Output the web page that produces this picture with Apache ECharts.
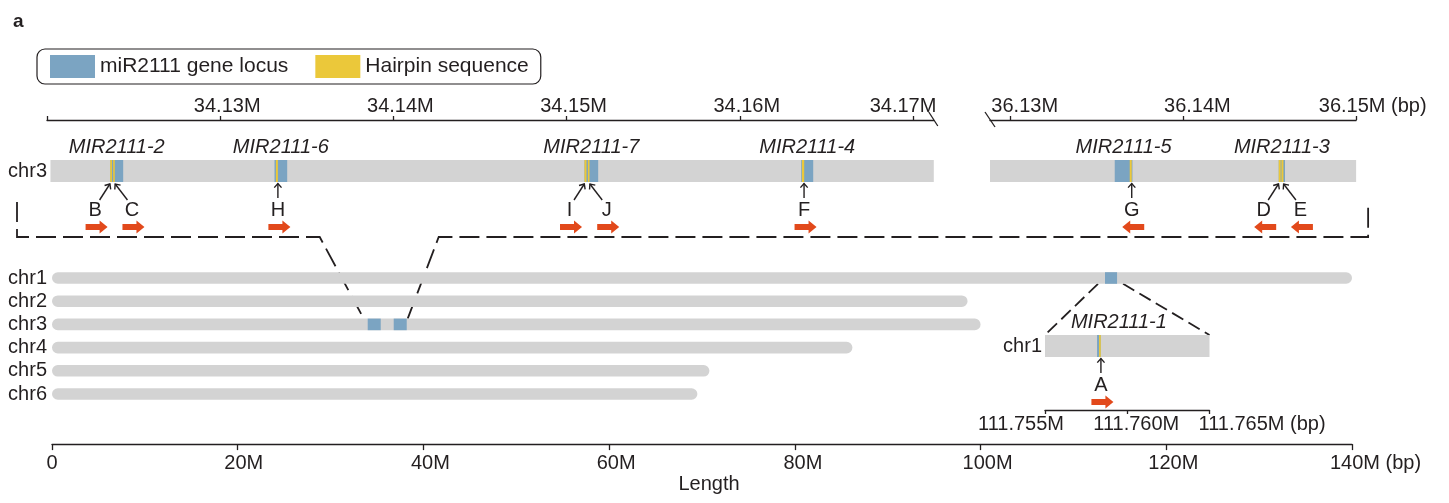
<!DOCTYPE html>
<html><head><meta charset="utf-8">
<script src="https://cdn.jsdelivr.net/npm/echarts@6/dist/echarts.min.js"></script>
<style>html,body{margin:0;padding:0;background:#fff}#c{width:1449px;height:503px}</style>
</head><body><div id="c"></div>
<script>
// ================= DATA (Mbp) =================
// zoomed chr3 windows and chr1 inset window
const chr3AxisLeft   = [34.12, 34.1712];
const chr3WindowLeft = [34.1202, 34.1712];
const chr3WindowRight = [36.1288, 36.1500];
const chr1Window = [111.755, 111.765];

// miR2111 gene loci
const lociNames  = ['MIR2111-2','MIR2111-6','MIR2111-7','MIR2111-4','MIR2111-5','MIR2111-3','MIR2111-1'];
const lociWindow = ['L','L','L','L','R','R','C1'];
const lociStart  = [34.12365, 34.133135, 34.151034, 34.163545, 36.136022, 36.145518, 111.758165];
const lociEnd    = [34.124399, 34.133868, 34.151824, 34.164238, 36.137047, 36.145883, 111.758390];

// hairpin sequences
const hairpinIds    = ['B','C','H','I','J','F','G','D','E','A'];
const hairpinWindow = ['L','L','L','L','L','L','R','R','R','C1'];
const hairpinStart  = [34.12365, 34.12382, 34.133216, 34.151034, 34.15123, 34.163586, 36.136891, 36.145518, 36.145674, 111.758287];
const hairpinEnd    = [34.12375, 34.12391, 34.133331, 34.15115, 34.151322, 34.163718, 36.137006, 36.14563, 36.14579, 111.75839];
const hairpinStrand = ['+','+','+','+','+','+','-','-','-','+'];
const hairpinLabelSide = [-1, 1, 0, -1, 1, 0, 0, -1, 1, 0];

// whole genome
const chromosomes = ['chr1','chr2','chr3','chr4','chr5','chr6'];
const chromLengths = [140.4, 98.6, 100.0, 86.2, 70.8, 69.5];
const highlightChrom = ['chr1','chr3','chr3'];
const highlightStart = [113.4, 34.0, 36.8];
const highlightEnd   = [114.7, 35.4, 38.2];

// ticks / tick labels
const tlTickValues  = [34.12, 34.13, 34.14, 34.15, 34.16, 34.17];
const tlLabelValues = [34.13, 34.14, 34.15, 34.16, 34.17];
const tlLabels      = ['34.13M','34.14M','34.15M','34.16M','34.17M'];
const trTickValues  = [36.13, 36.14, 36.15];
const trLabels      = ['36.13M','36.14M','36.15M'];
const genomeTickValues = [0, 20, 40, 60, 80, 100, 120, 140];
const genomeLabels  = ['0','20M','40M','60M','80M','100M','120M','140M'];
const insetTickValues = [111.755, 111.760, 111.765];
const insetLabels   = ['111.755M','111.760M','111.765M'];
const unitSuffix = ' (bp)';

// ================= STYLE / LAYOUT =================
const FONT = "'Liberation Sans', Arial, Helvetica, sans-serif";
const INK = '#231f20', GRAY = '#d3d3d3', BLUE = '#7ba4c2', YELLOW = '#ebc83a', RED = '#e2491b';
const TL_NUDGE = [7, 7, 7, 7, -10];
const TR_NUDGE = [14, 14, -4];
const G_NUDGE  = [0, 6, 7, 7, 8, 7, 7, 3];
const IN_NUDGE = [-24, 9, 32];
const LABEL_NUDGE = {'MIR2111-1': 20};

const ctx = document.createElement('canvas').getContext('2d');
function tw(s, size) { ctx.font = size + 'px ' + FONT; return ctx.measureText(s).width; }

function axisLabel(values, texts, nudges, suffixIdx, size, margin) {
  const rich = {};
  const sw = tw(unitSuffix, size);
  texts.forEach((t, i) => {
    const pad = (i === suffixIdx) ? sw + 2 * nudges[i] : 2 * nudges[i];
    rich['n' + i] = {fontSize: size, fontFamily: FONT, color: INK,
      padding: pad >= 0 ? [0, 0, 0, pad] : [0, -pad, 0, 0]};
  });
  rich.s = {fontSize: size, fontFamily: FONT, color: INK};
  return {
    show: true, customValues: values, margin: margin, fontSize: size, fontFamily: FONT, color: INK, rich: rich,
    formatter: v => {
      const i = values.findIndex(x => Math.abs(x - v) < 1e-7);
      if (i < 0) return '';
      return '{n' + i + '|' + texts[i] + '}' + (i === suffixIdx ? '{s|' + unitSuffix + '}' : '');
    }
  };
}
const idxOf = (arr, key) => arr.map((w, i) => w === key ? i : -1).filter(i => i >= 0);

function arrowLine(t, p) {
  const dx = p[0] - t[0], dy = p[1] - t[1], L = Math.hypot(dx, dy), ux = dx / L, uy = dy / L;
  const hl = 5.5, ang = 0.72;
  const rot = (x, y, a) => [x * Math.cos(a) - y * Math.sin(a), x * Math.sin(a) + y * Math.cos(a)];
  const r1 = rot(-ux, -uy, ang), r2 = rot(-ux, -uy, -ang);
  return {type: 'group', children: [
    {type: 'line', shape: {x1: t[0], y1: t[1], x2: p[0], y2: p[1]}, style: {stroke: INK, lineWidth: 1.4}},
    {type: 'polyline', shape: {points: [[p[0] + r1[0] * hl, p[1] + r1[1] * hl], p, [p[0] + r2[0] * hl, p[1] + r2[1] * hl]]},
      style: {stroke: INK, lineWidth: 1.4, fill: null}}
  ]};
}
function redArrow(cx, cy, dir) {
  const L = 11, hs = 3, hh = 6.5, hl = 8;
  const pts = [[-L, -hs], [L - hl, -hs], [L - hl, -hh], [L, 0], [L - hl, hh], [L - hl, hs], [-L, hs]]
    .map(([x, y]) => [cx + dir * x, cy + y]);
  return {type: 'polygon', shape: {points: pts}, style: {fill: RED}};
}

function windowSeries(gi, range) {
  return {type: 'custom', xAxisIndex: gi, yAxisIndex: gi, z: 1, silent: true,
    data: [[range[0], range[1], 0]], encode: {x: [0, 1], y: 2},
    renderItem: (params, api) => {
      const a = api.coord([api.value(0), 0]), b = api.coord([api.value(1), 0]);
      const h = api.size([0, 1])[1];
      return {type: 'rect', shape: {x: a[0], y: a[1] - h / 2, width: b[0] - a[0], height: h}, style: {fill: GRAY}};
    }};
}
function lociSeries(key, gi) {
  const idx = idxOf(lociWindow, key);
  return {type: 'custom', name: 'miR2111 gene locus', xAxisIndex: gi, yAxisIndex: gi, z: 3, silent: true,
    itemStyle: {color: BLUE},
    data: idx.map(i => [lociStart[i], lociEnd[i], 0]), encode: {x: [0, 1], y: 2},
    renderItem: (params, api) => {
      const i = idx[params.dataIndex];
      const a = api.coord([api.value(0), 0]), b = api.coord([api.value(1), 0]);
      const h = api.size([0, 1])[1];
      const top = a[1] - h / 2;
      const cx = (a[0] + b[0]) / 2 + (LABEL_NUDGE[lociNames[i]] || 0);
      return {type: 'group', children: [
        {type: 'rect', shape: {x: a[0], y: top, width: b[0] - a[0], height: h}, style: {fill: BLUE}},
        {type: 'text', style: {text: lociNames[i], x: cx, y: top - 13, align: 'center', verticalAlign: 'middle',
          fill: INK, font: 'italic 20px ' + FONT}}
      ]};
    }};
}
function hairpinSeries(key, gi) {
  const idx = idxOf(hairpinWindow, key);
  return {type: 'custom', name: 'Hairpin sequence', xAxisIndex: gi, yAxisIndex: gi, z: 4, silent: true,
    itemStyle: {color: YELLOW},
    data: idx.map(i => [hairpinStart[i], hairpinEnd[i], 0]), encode: {x: [0, 1], y: 2},
    renderItem: (params, api) => {
      const i = idx[params.dataIndex];
      const a = api.coord([api.value(0), 0]), b = api.coord([api.value(1), 0]);
      const h = api.size([0, 1])[1];
      const top = a[1] - h / 2, bot = a[1] + h / 2;
      const w = Math.max(b[0] - a[0], 1.6);
      const cx = a[0] + w / 2;
      const side = hairpinLabelSide[i];
      const dir = hairpinStrand[i] === '+' ? 1 : -1;
      const lx = side < 0 ? cx - 16 : side > 0 ? cx + 18 : cx + 1;
      const tail = side === 0 ? [lx, bot + 16] : [lx - side * 4.5, bot + 18];
      const tip = side === 0 ? [lx, bot + 1.5] : [cx + side * 1.2, bot + 2];
      return {type: 'group', children: [
        {type: 'rect', shape: {x: a[0], y: top, width: w, height: h}, style: {fill: YELLOW}},
        arrowLine(tail, tip),
        {type: 'text', style: {text: hairpinIds[i], x: lx, y: bot + 28.5, align: 'center', verticalAlign: 'middle',
          fill: INK, font: '20px ' + FONT}},
        redArrow(lx + 1.5, bot + 45, dir)
      ]};
    }};
}

const axisLineStyle = {show: true, lineStyle: {color: INK, width: 1.3}};
const tickStyle = {color: INK, width: 1.3};
const BAR_H = 11.6;

const option = {
  animation: false,
  backgroundColor: '#fff',
  title: {text: 'a', left: 8, top: 7, textStyle: {fontSize: 19, fontWeight: 'bold', color: INK, fontFamily: FONT}},
  legend: {
    data: ['miR2111 gene locus', 'Hairpin sequence'],
    left: 37, top: 49, orient: 'horizontal', icon: 'rect',
    itemWidth: 45, itemHeight: 23, itemGap: 27,
    padding: [6, 12, 6, 13],
    borderColor: INK, borderWidth: 1.2, borderRadius: 8,
    selectedMode: false,
    textStyle: {fontSize: 21, color: INK, fontFamily: FONT}
  },
  grid: [
    {left: 47, top: 160, width: (chr3AxisLeft[1] - chr3AxisLeft[0]) * 17320, height: 22, outerBoundsMode: 'none'},
    {left: 990, top: 160, width: (chr3WindowRight[1] - chr3WindowRight[0]) * 17270, height: 22, outerBoundsMode: 'none'},
    {left: 52, top: 266.4, width: 1300, height: 139.2, outerBoundsMode: 'none'},
    {left: 1045, top: 335, width: 164.5, height: 22, outerBoundsMode: 'none'}
  ],
  xAxis: [
    {gridIndex: 0, type: 'value', position: 'top', offset: 40, min: chr3AxisLeft[0], max: chr3AxisLeft[1],
      axisLine: axisLineStyle, splitLine: {show: false},
      axisTick: {show: true, customValues: tlTickValues, length: 4, lineStyle: tickStyle},
      axisLabel: axisLabel(tlLabelValues, tlLabels, TL_NUDGE, -1, 20, 4)},
    {gridIndex: 1, type: 'value', position: 'top', offset: 40, min: chr3WindowRight[0], max: chr3WindowRight[1],
      axisLine: axisLineStyle, splitLine: {show: false},
      axisTick: {show: true, customValues: trTickValues, length: 4, lineStyle: tickStyle},
      axisLabel: axisLabel(trTickValues, trLabels, TR_NUDGE, trLabels.length - 1, 20, 4)},
    {gridIndex: 2, type: 'value', position: 'bottom', offset: 38.5, min: 0, max: 140, interval: 20,
      axisLine: axisLineStyle, splitLine: {show: false},
      axisTick: {show: true, length: 6, lineStyle: tickStyle},
      axisLabel: axisLabel(genomeTickValues, genomeLabels, G_NUDGE, genomeLabels.length - 1, 20, 9),
      name: 'Length', nameLocation: 'middle', nameGap: 30,
      nameTextStyle: {fontSize: 20, color: INK, fontFamily: FONT, padding: [0, 0, 0, 14]}},
    {gridIndex: 3, type: 'value', position: 'bottom', offset: 53, min: chr1Window[0], max: chr1Window[1],
      axisLine: axisLineStyle, splitLine: {show: false},
      axisTick: {show: true, customValues: insetTickValues, length: 4, lineStyle: tickStyle},
      axisLabel: axisLabel(insetTickValues, insetLabels, IN_NUDGE, insetLabels.length - 1, 20, 4)}
  ],
  yAxis: [
    {gridIndex: 0, type: 'category', data: ['chr3'], axisLine: {show: false}, axisTick: {show: false},
      axisLabel: {fontSize: 20, color: INK, fontFamily: FONT, margin: 0, interval: 0}},
    {gridIndex: 1, type: 'category', data: ['chr3'], show: false},
    {gridIndex: 2, type: 'category', data: chromosomes, inverse: true, axisLine: {show: false}, axisTick: {show: false},
      axisLabel: {fontSize: 20, color: INK, fontFamily: FONT, margin: 5, interval: 0}},
    {gridIndex: 3, type: 'category', data: ['chr1'], axisLine: {show: false}, axisTick: {show: false},
      axisLabel: {fontSize: 20, color: INK, fontFamily: FONT, margin: 3, interval: 0}}
  ],
  series: [
    windowSeries(0, chr3WindowLeft),
    windowSeries(1, chr3WindowRight),
    windowSeries(3, chr1Window),
    lociSeries('L', 0), lociSeries('R', 1), lociSeries('C1', 3),
    hairpinSeries('L', 0), hairpinSeries('R', 1), hairpinSeries('C1', 3),
    {type: 'bar', name: 'genome', xAxisIndex: 2, yAxisIndex: 2, data: chromLengths, barWidth: BAR_H, silent: true, z: 1,
      itemStyle: {color: GRAY, borderRadius: BAR_H / 2}},
    {type: 'custom', name: 'locus region', xAxisIndex: 2, yAxisIndex: 2, z: 3, silent: true,
      data: highlightStart.map((s, i) => [s, highlightEnd[i], chromosomes.indexOf(highlightChrom[i])]),
      encode: {x: [0, 1], y: 2},
      renderItem: (params, api) => {
        const a = api.coord([api.value(0), api.value(2)]), b = api.coord([api.value(1), api.value(2)]);
        return {type: 'rect', shape: {x: a[0], y: a[1] - BAR_H / 2, width: b[0] - a[0], height: BAR_H}, style: {fill: BLUE}};
      }}
  ]
};

const chart = echarts.init(document.getElementById('c'), null, {renderer: 'canvas'});
chart.setOption(option);

// ---- decorations tied to the scales: axis breaks and dashed connectors ----
const px = (xi, v) => chart.convertToPixel({xAxisIndex: xi}, v);
const py = (yi, v) => chart.convertToPixel({yAxisIndex: yi}, v);
const topAxisY = 160 - 40, topBarBottom = 160 + 22;
const dash = {stroke: INK, lineWidth: 1.8, lineDash: [20, 7], fill: null};
const dash2 = {stroke: INK, lineWidth: 1.8, lineDash: [13, 6], fill: null};
const brkL = px(0, chr3AxisLeft[1]), brkR = px(1, chr3WindowRight[0]);
const L0 = px(0, chr3AxisLeft[0]) - 30, R0 = px(1, chr3WindowRight[1]) + 12;
const yH = topBarBottom + 55, yV = topBarBottom + 20;
const box1 = px(2, highlightStart[1]), box2 = px(2, highlightEnd[2]);
const chr3Top = py(2, chromosomes.indexOf('chr3')) - BAR_H / 2;
const c1a = px(2, highlightStart[0]), c1b = px(2, highlightEnd[0]);
const chr1Bot = py(2, chromosomes.indexOf('chr1')) + BAR_H / 2;
const ins0 = px(3, chr1Window[0]), ins1 = px(3, chr1Window[1]);
const insTop = 335;
chart.setOption({graphic: [
  {type: 'line', shape: {x1: brkL - 5, y1: topAxisY - 8, x2: brkL + 4, y2: topAxisY + 6}, style: {stroke: INK, lineWidth: 1.3}},
  {type: 'line', shape: {x1: brkR - 5, y1: topAxisY - 8, x2: brkR + 5, y2: topAxisY + 7}, style: {stroke: INK, lineWidth: 1.3}},
  {type: 'polyline', shape: {points: [[L0, yV], [L0, yH], [box1 - 48, yH], [box1 - 4, chr3Top]]}, style: dash},
  {type: 'polyline', shape: {points: [[box2 + 1, chr3Top], [box2 + 32, yH], [R0, yH], [R0, yV]]}, style: dash},
  {type: 'polyline', shape: {points: [[c1a - 7, chr1Bot], [ins0, insTop]]}, style: dash2},
  {type: 'polyline', shape: {points: [[c1b + 6, chr1Bot], [ins1, insTop]]}, style: dash2}
]});
</script>
</body></html>
